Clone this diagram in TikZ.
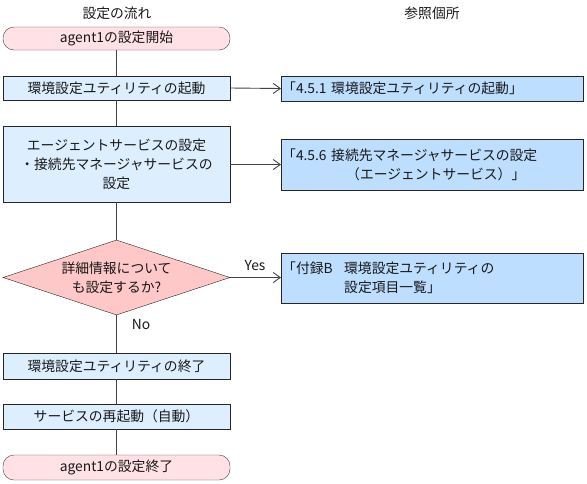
\documentclass[tikz,border=0pt]{standalone}
\usepackage{fontspec}
\setmainfont{Noto Sans CJK JP}
\usetikzlibrary{shapes.geometric,arrows.meta}
\definecolor{startpink}{HTML}{FFE1E6}
\definecolor{askpink}{HTML}{FFC8C8}
\definecolor{stepblue}{HTML}{DDEEFF}
\definecolor{refblue}{HTML}{BDDEFF}
\definecolor{linegray}{HTML}{444444}
\tikzset{
  flowtext/.style={font=\fontsize{13.8}{19}\selectfont, text=black!90},
  endpoint/.style={flowtext, draw=linegray, fill=startpink, rounded corners=11pt,
    minimum width=227pt, minimum height=23pt, inner sep=0pt},
  stepbox/.style={flowtext, draw=black!85, fill=stepblue, minimum width=227pt,
    minimum height=24pt, inner sep=0pt, align=center},
  refbox/.style={flowtext, draw=black!85, fill=refblue, minimum width=302pt,
    text width=300pt, inner xsep=1pt, align=left, anchor=west},
  askbox/.style={flowtext, diamond, draw=black!85, fill=askpink, aspect=3,
    minimum width=227pt, minimum height=75pt, inner sep=0pt, align=center},
  flowline/.style={draw=linegray, line width=0.9pt},
  refarrow/.style={flowline, -{Straight Barb[length=7pt,width=10pt]}},
}
\begin{document}
\begin{tikzpicture}[x=1pt,y=-1pt]
  \useasboundingbox (0,0) rectangle (587,483);
  \draw
    (117,13) node[flowtext] (flowhead){設定の流れ}
    (432,13) node[flowtext] (refhead){参照個所}
    (116.5,38.5) node[endpoint] (start){agent1の設定開始}
    (116.5,88) node[stepbox] (launch){環境設定ユティリティの起動}
    (116.5,164) node[stepbox, minimum height=76pt] (agentset){エージェントサービスの設定\\・接続先マネージャサービスの\\設定}
    (116.5,277.5) node[askbox] (ask){詳細情報について\\も設定するか?}
    (116.5,366) node[stepbox, minimum height=26pt] (quit){環境設定ユティリティの終了}
    (116.5,416.5) node[stepbox, minimum height=25pt] (restart){サービスの再起動（自動）}
    (116.5,467.5) node[endpoint, minimum height=25pt] (finish){agent1の設定終了}
    (281,88.5) node[refbox, minimum height=25pt] (ref451){「4.5.1 環境設定ユティリティの起動」}
    (281,164.5) node[refbox, minimum height=51pt] (ref456){「4.5.6 接続先マネージャサービスの設定\\\hspace*{64pt}（エージェントサービス）」}
    (281,278) node[refbox, minimum height=50pt] (refB){\makebox[62pt][l]{「付録B}環境設定ユティリティの\\\hspace*{62pt}設定項目一覧」}
    (255,266) node[flowtext] (yes){Yes}
    (141,325) node[flowtext] (no){No};
  \begin{scope}[flowline]
    \draw (start) to (launch);
    \draw (launch) to (agentset);
    \draw (agentset) to (ask);
    \draw (ask) to (quit);
    \draw (quit) to (restart);
    \draw (restart) to (finish);
  \end{scope}
  \begin{scope}[refarrow]
    \draw (launch.east) to (ref451.west);
    \draw (agentset.east |- ref456.west) to (ref456.west);
    \draw (ask.east) to (refB.west |- ask.east);
  \end{scope}
\end{tikzpicture}
\end{document}
